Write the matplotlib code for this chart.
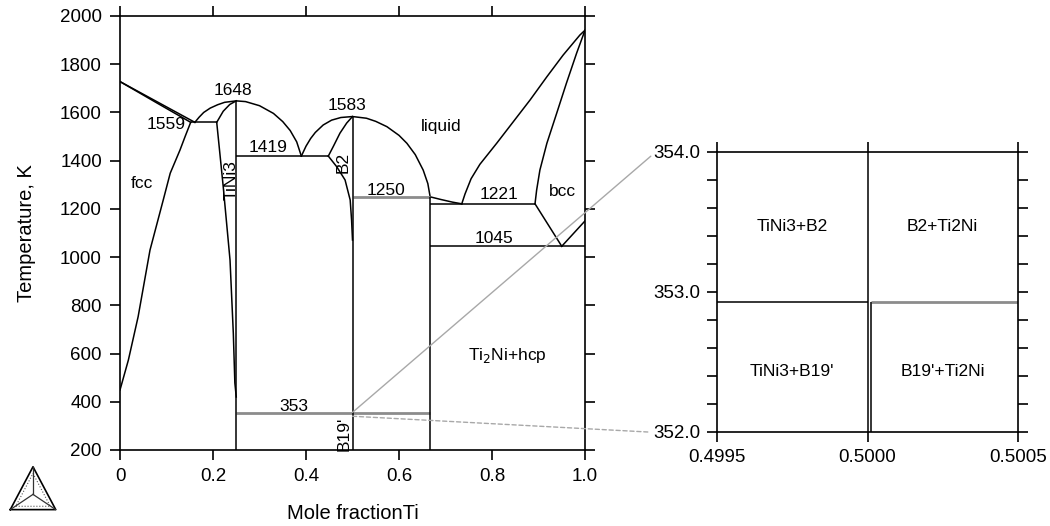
import matplotlib
matplotlib.use('Agg')
import matplotlib.pyplot as plt
from matplotlib.patches import ConnectionPatch
import numpy as np

plt.rcParams['font.family'] = ['Liberation Sans', 'DejaVu Sans']

# Ni-Ti phase diagram, x = mole fraction Ti, T in K
liqNiX = [0.0, 0.08, 0.161]
liqNiT = [1728, 1644, 1559]
solNiX = [0.0, 0.077, 0.152]
solNiT = [1728, 1642, 1559]
fccSolvusX = [0.152, 0.14, 0.129, 0.108, 0.093, 0.0645, 0.039, 0.018, 0.0]
fccSolvusT = [1559, 1500, 1444, 1348, 1237, 1029, 753, 573, 449]

liqTiNi3X = [0.161, 0.17, 0.18, 0.194, 0.21, 0.225, 0.25, 0.27, 0.30, 0.33, 0.35, 0.366, 0.38, 0.39]
liqTiNi3T = [1559, 1580, 1600, 1618, 1632, 1642, 1648, 1645, 1628, 1596, 1562, 1525, 1478, 1419]
solTiNi3X = [0.208, 0.222, 0.236, 0.25]
solTiNi3T = [1559, 1605, 1633, 1648]
tiNi3LeftX = [0.208, 0.222, 0.2366, 0.2437, 0.247, 0.25]
tiNi3LeftT = [1559, 1292, 988, 684, 478, 420]

liqB2X = [0.39, 0.40, 0.41, 0.42, 0.437, 0.455, 0.475, 0.5, 0.53, 0.55, 0.574,
          0.60, 0.617, 0.635, 0.652, 0.662, 0.667]
liqB2T = [1419, 1460, 1492, 1517, 1548, 1568, 1579, 1583, 1576, 1563, 1541,
          1505, 1472, 1425, 1361, 1305, 1250]
solB2X = [0.448, 0.459, 0.473, 0.4875, 0.5]
solB2T = [1419, 1460, 1514, 1556, 1583]
b2LeftX = [0.448, 0.466, 0.484, 0.495, 0.498, 0.5]
b2LeftT = [1419, 1375, 1320, 1237, 1154, 1071]

liqTi2NiX = [0.667, 0.69, 0.715, 0.735]
liqTi2NiT = [1250, 1239, 1228, 1221]
liqBccX = [0.735, 0.742, 0.755, 0.774, 0.81, 0.846, 0.882, 0.918, 0.953, 0.989, 1.0]
liqBccT = [1221, 1262, 1325, 1385, 1472, 1562, 1652, 1748, 1838, 1921, 1941]
solBccX = [0.8925, 0.896, 0.903, 0.918, 0.939, 0.96, 0.982, 1.0]
solBccT = [1221, 1278, 1361, 1472, 1596, 1721, 1846, 1941]
bccSolvusX = [0.8925, 0.95]
bccSolvusT = [1221, 1045]
hcpBccX = [0.95, 1.0]
hcpBccT = [1045, 1150]

# invariant reactions: temperature, from x, to x
invT = [1559, 1419, 1221, 1045]
invX0 = [0.152, 0.25, 0.667, 0.667]
invX1 = [0.208, 0.448, 0.8925, 1.0]
grayT = [1250, 353]
grayX0 = [0.5, 0.25]
grayX1 = [0.667, 0.667]

# stoichiometric compounds: TiNi3, TiNi (B2/B19'), Ti2Ni
compX = [0.25, 0.5, 0.667]
compTop = [1648, 1583, 1250]

# labels on the main diagram
labelText = ['1648', '1559', '1419', '1583', 'liquid', '1250', '1221', 'bcc',
             '1045', 'fcc', 'Ti$_2$Ni+hcp', '353']
labelX = [0.243, 0.10, 0.318, 0.489, 0.69, 0.572, 0.814, 0.952, 0.805, 0.047, 0.833, 0.374]
labelT = [1693, 1548, 1455, 1628, 1541, 1275, 1258, 1271, 1078, 1306, 594, 380]
rotText = ['TiNi3', 'B2', "B19'"]
rotX = [0.238, 0.48, 0.483]
rotT = [1320, 1394, 269]

# zoom around x = 0.5, T = 353 K
zoomLimX = [0.4995, 0.5005]
zoomLimT = [352.0, 354.0]
zoomT = 352.93
zoomSplitX = 0.500013
zoomText = ['TiNi3+B2', 'B2+Ti2Ni', "TiNi3+B19'", "B19'+Ti2Ni"]
zoomTextX = [0.49975, 0.50025, 0.49975, 0.50025]
zoomTextT = [353.47, 353.47, 352.43, 352.43]

LINE = dict(color='black', lw=1.1)
GRAY = '#8c8c8c'

fig = plt.figure(figsize=(10.5, 5.26), dpi=100)
ax = fig.add_axes([120 / 1050, 76 / 526, 465 / 1050, 434 / 526])

for xs, ts in [(liqNiX, liqNiT), (solNiX, solNiT), (fccSolvusX, fccSolvusT),
               (liqTiNi3X, liqTiNi3T), (solTiNi3X, solTiNi3T), (tiNi3LeftX, tiNi3LeftT),
               (liqB2X, liqB2T), (solB2X, solB2T), (b2LeftX, b2LeftT),
               (liqTi2NiX, liqTi2NiT), (liqBccX, liqBccT), (solBccX, solBccT),
               (bccSolvusX, bccSolvusT), (hcpBccX, hcpBccT)]:
    ax.plot(xs, ts, **LINE)

ax.hlines(invT, invX0, invX1, **LINE)
ax.hlines(grayT, grayX0, grayX1, color=GRAY, lw=2)
ax.vlines(compX, 200, compTop, **LINE)

for t, x, T in zip(labelText, labelX, labelT):
    ax.text(x, T, t, ha='center', va='center', fontsize=12.5)
for t, x, T in zip(rotText, rotX, rotT):
    ax.text(x, T, t, ha='center', va='center', fontsize=12.5, rotation=90)

ax.set_xlim(0, 1)
ax.set_ylim(200, 2000)
ax.set_xticks(np.arange(0, 1.01, 0.2))
ax.set_xticklabels(['0', '0.2', '0.4', '0.6', '0.8', '1.0'])
ax.set_yticks(np.arange(200, 2001, 200))
ax.tick_params(direction='out', length=7, width=1.2, top=True, right=True,
               labelsize=13.5, pad=6)
for s in ax.spines.values():
    s.set_linewidth(1.2)
ax.set_xlabel('Mole fractionTi', fontsize=14.5)
ax.set_ylabel('Temperature, K', fontsize=14.5)
ax.xaxis.set_label_coords(0.5, -0.125)
ax.yaxis.set_label_coords(-0.18, 0.5)

# the zoomed inset
axz = fig.add_axes([717 / 1050, 94 / 526, 301 / 1050, 280 / 526])
axz.hlines(zoomT, zoomLimX[0], 0.5, **LINE)
axz.hlines(zoomT, zoomSplitX, zoomLimX[1], color=GRAY, lw=2)
axz.vlines(0.5, zoomLimT[0], zoomLimT[1], **LINE)
axz.vlines(zoomSplitX, zoomLimT[0], zoomT, **LINE)
for t, x, T in zip(zoomText, zoomTextX, zoomTextT):
    axz.text(x, T, t, ha='center', va='center', fontsize=12.5)
axz.set_xlim(zoomLimX)
axz.set_ylim(zoomLimT)
axz.set_xticks([0.4995, 0.5, 0.5005])
axz.set_xticklabels(['0.4995', '0.5000', '0.5005'])
axz.set_yticks([352, 353, 354])
axz.set_yticklabels(['352.0', '353.0', '354.0'])
axz.set_yticks(np.arange(352, 354.01, 0.2), minor=True)
axz.tick_params(which='both', direction='out', length=7, width=1.2, top=True,
                right=True, labelsize=13.5, pad=5)
for s in axz.spines.values():
    s.set_linewidth(1.2)

# connector lines from the main diagram to the inset
con1 = ConnectionPatch(xyA=(0.5, 356), coordsA=ax.transData,
                       xyB=(0.49928, 353.97), coordsB=axz.transData,
                       color='#a8a8a8', lw=1)
con2 = ConnectionPatch(xyA=(0.5, 340), coordsA=ax.transData,
                       xyB=(0.49927, 352.0), coordsB=axz.transData,
                       color='#a8a8a8', lw=1, ls=(0, (3, 2)))
fig.add_artist(con1)
fig.add_artist(con2)

# small triangle logo in the lower left corner
lg = fig.add_axes([8 / 1050, 14 / 526, 50 / 1050, 50 / 526])
tri = np.array([[0, 0], [1, 0], [0.5, 0.9], [0, 0]])
inner = np.array([[0.12, 0.07], [0.88, 0.07], [0.5, 0.76], [0.12, 0.07]])
lg.plot(tri[:, 0], tri[:, 1], color='black', lw=1.2)
lg.plot(inner[:, 0], inner[:, 1], color='#555555', lw=0.8, ls=':')
cx, cy = 0.5, 0.32
for vx, vy in tri[:3]:
    lg.plot([cx, vx], [cy, vy], color='#333333', lw=0.9)
lg.set_xlim(-0.05, 1.05)
lg.set_ylim(-0.05, 1.0)
lg.axis('off')

fig.savefig('out.png', dpi=100)
